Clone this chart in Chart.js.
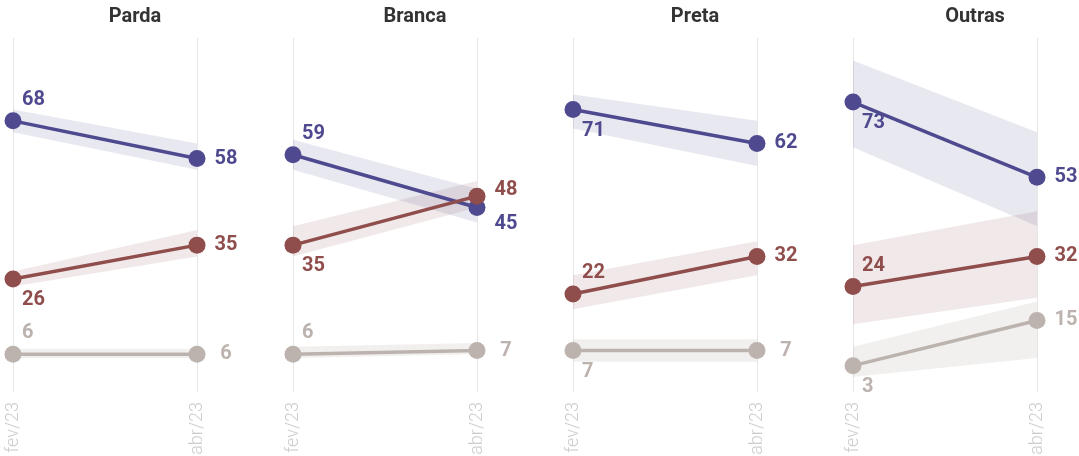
<!DOCTYPE html>
<html>
<head>
<meta charset="utf-8">
<script src="https://cdn.jsdelivr.net/npm/chart.js@4"></script>
<style>
    html, body { margin: 0; padding: 0; background: #fff; overflow: hidden; }
    #wrap { position: relative; width: 1079px; height: 456px; overflow: hidden; }
    .panel { position: absolute; top: 0; }
</style>
</head>
<body>
<div id="wrap"></div>
<script>
// Panels and months
const panelTitles = ['Parda', 'Branca', 'Preta', 'Outras'];
const months = ['fev/23', 'abr/23'];

// Values per panel [fev, abr]
const purpleValues = [[68, 58], [59, 45], [71, 62], [73, 53]];
const redValues = [[26, 35], [35, 48], [22, 32], [24, 32]];
const grayValues = [[6, 6], [6, 7], [7, 7], [3, 15]];

// Uncertainty bands per panel [fev, abr]
const purpleLow = [[65, 55], [55, 41], [66, 56], [61, 40]];
const purpleHigh = [[71, 62], [63, 50], [75, 68], [84, 65]];
const redLow = [[24, 32], [32, 45], [18, 27], [14, 21]];
const redHigh = [[28, 39], [40, 52], [27, 36], [35, 44]];
const grayLow = [[5, 5], [5, 6], [4, 4], [0, 5]];
const grayHigh = [[7.5, 7.5], [8, 9], [10, 10], [8, 20]];

// Colors
const colors = {
    purple: '#4f4a8f',
    red: '#8f4d4c',
    gray: '#bcb3ae'
};
const bandColors = {
    purple: 'rgba(79, 74, 143, 0.13)',
    red: 'rgba(143, 77, 76, 0.12)',
    gray: 'rgba(188, 179, 174, 0.2)'
};

// Where the fev label goes (above / below the point) and vertical nudge for abr label
const fevLabelPos = [
    { purple: 'above', red: 'below', gray: 'above' },
    { purple: 'above', red: 'below', gray: 'above' },
    { purple: 'below', red: 'above', gray: 'below' },
    { purple: 'below', red: 'above', gray: 'below' }
];
const abrLabelNudge = [
    { purple: 0, red: 0, gray: 0 },
    { purple: 17, red: -6, gray: 0 },
    { purple: 0, red: 0, gray: 0 },
    { purple: 0, red: 0, gray: 0 }
];

const FONT = 'Roboto, "Noto Sans", sans-serif';

function pts(vals) {
    return vals.map((v, i) => ({ x: i, y: v }));
}

// Draws titles, month labels and value labels
const panelTextPlugin = {
    id: 'panelText',
    afterDraw(chart) {
        const ctx = chart.ctx;
        const p = chart.options.plugins.panelText;
        const xs = chart.scales.x;

        ctx.save();
        // title
        ctx.font = 'bold 20px ' + FONT;
        ctx.fillStyle = '#333333';
        ctx.textAlign = 'center';
        ctx.textBaseline = 'middle';
        ctx.fillText(p.title, 135, 17);

        // month labels, rotated
        ctx.font = '300 18px ' + FONT;
        ctx.fillStyle = '#cccccc';
        months.forEach((m, i) => {
            const x = xs.getPixelForValue(i);
            ctx.save();
            ctx.translate(x, 402);
            ctx.rotate(-Math.PI / 2);
            ctx.textAlign = 'right';
            ctx.textBaseline = 'middle';
            ctx.fillText(m, 0, 0);
            ctx.restore();
        });

        // value labels
        ctx.font = 'bold 20px ' + FONT;
        ctx.textBaseline = 'middle';
        chart.data.datasets.forEach((ds, di) => {
            if (!ds.seriesKey) return;
            const meta = chart.getDatasetMeta(di);
            const key = ds.seriesKey;
            ctx.fillStyle = colors[key];
            meta.data.forEach((pt, i) => {
                const val = ds.data[i].y;
                if (i === 0) {
                    const dy = p.fevPos[key] === 'above' ? -21 : 21;
                    ctx.textAlign = 'left';
                    ctx.fillText(val, pt.x + 9, pt.y + dy);
                } else {
                    ctx.textAlign = 'center';
                    ctx.fillText(val, pt.x + 29, pt.y + p.abrNudge[key]);
                }
            });
        });
        ctx.restore();
    }
};

function bandDatasets(low, high, color, order) {
    return [
        {
            data: pts(low),
            borderWidth: 0,
            pointRadius: 0,
            fill: false,
            order: order
        },
        {
            data: pts(high),
            borderWidth: 0,
            pointRadius: 0,
            fill: '-1',
            backgroundColor: color,
            order: order
        }
    ];
}

function lineDataset(vals, key, order) {
    return {
        seriesKey: key,
        data: pts(vals),
        borderColor: colors[key],
        backgroundColor: colors[key],
        borderWidth: 3.5,
        pointRadius: 8.5,
        pointHoverRadius: 8.5,
        pointBorderWidth: 0,
        fill: false,
        order: order
    };
}

const wrap = document.getElementById('wrap');

panelTitles.forEach((title, idx) => {
    const canvas = document.createElement('canvas');
    canvas.className = 'panel';
    canvas.width = 280;
    canvas.height = 456;
    canvas.style.left = (idx * 280) + 'px';
    canvas.style.width = '280px';
    canvas.style.height = '456px';
    wrap.appendChild(canvas);

    const datasets = [
        ...bandDatasets(grayLow[idx], grayHigh[idx], bandColors.gray, 30),
        ...bandDatasets(redLow[idx], redHigh[idx], bandColors.red, 20),
        ...bandDatasets(purpleLow[idx], purpleHigh[idx], bandColors.purple, 10),
        lineDataset(grayValues[idx], 'gray', 3),
        lineDataset(purpleValues[idx], 'purple', 2),
        lineDataset(redValues[idx], 'red', 1)
    ];

    new Chart(canvas, {
        type: 'line',
        data: { datasets: datasets },
        options: {
            responsive: false,
            animation: false,
            events: [],
            clip: false,
            layout: {
                padding: { left: 13, right: 83, top: 38, bottom: 64 }
            },
            datasets: {
                line: { clip: false, tension: 0 }
            },
            scales: {
                x: {
                    type: 'linear',
                    min: 0,
                    max: 1,
                    display: true,
                    ticks: { display: false, stepSize: 1 },
                    grid: { color: '#e6e6e6', lineWidth: 1, drawTicks: false },
                    border: { display: false }
                },
                y: {
                    min: -4,
                    max: 90,
                    display: false
                }
            },
            plugins: {
                legend: { display: false },
                tooltip: { enabled: false },
                panelText: {
                    title: title,
                    fevPos: fevLabelPos[idx],
                    abrNudge: abrLabelNudge[idx]
                }
            }
        },
        plugins: [panelTextPlugin]
    });
});
</script>
</body>
</html>
